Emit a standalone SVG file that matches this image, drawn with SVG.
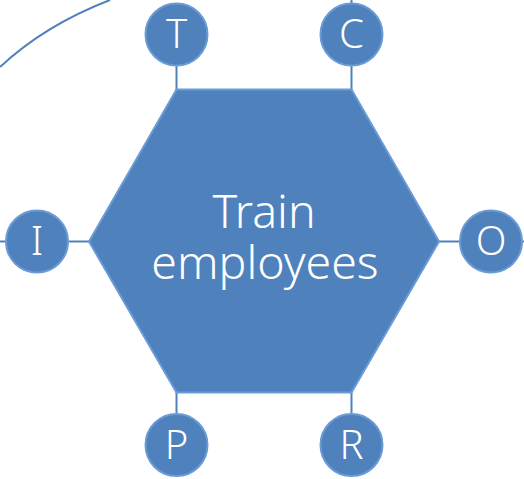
<svg xmlns="http://www.w3.org/2000/svg" width="524" height="479" viewBox="0 0 524 479">
<style>
.ln{stroke:#4F81BD;stroke-width:2;fill:none}
.nd{fill:#4F81BD;stroke:#6A9BD6;stroke-width:2}
.lt{fill:#fff;font-family:"Noto Sans","Open Sans",sans-serif;font-weight:300;font-size:40px;text-anchor:middle}
.mt{fill:#fff;font-family:"Noto Sans","Open Sans",sans-serif;font-weight:300;font-size:46.5px;text-anchor:middle}
</style>
<rect width="524" height="479" fill="#fff"/>
<g id="connectors">
<path class="ln" d="M0,67 Q45,25 110,0"/>
<line class="ln" x1="176.5" y1="66" x2="176.5" y2="90"/>
<line class="ln" x1="351.5" y1="0" x2="351.5" y2="4"/>
<line class="ln" x1="351.5" y1="66" x2="351.5" y2="90"/>
<line class="ln" x1="0" y1="241.5" x2="6" y2="241.5"/>
<line class="ln" x1="68" y1="241.5" x2="90" y2="241.5"/>
<line class="ln" x1="438" y1="241.5" x2="460" y2="241.5"/>
<line class="ln" x1="521" y1="241.5" x2="524" y2="241.5"/>
<line class="ln" x1="176.5" y1="392" x2="176.5" y2="414"/>
<line class="ln" x1="351.5" y1="392" x2="351.5" y2="414"/>
</g>
<g id="hub">
<polygon class="nd" points="176.5,89.5 351.5,89.5 439,241.5 351.5,392.5 176.5,392.5 89,241.5"/>
<text class="mt"><tspan x="264" y="228">Train</tspan><tspan x="265" y="279">employees</tspan></text>
</g>
<g id="nodeT"><circle class="nd" cx="176.5" cy="34.5" r="31"/><text class="lt" x="176.5" y="48">T</text></g>
<g id="nodeC"><circle class="nd" cx="351.5" cy="34.5" r="31"/><text class="lt" x="351.5" y="48">C</text></g>
<g id="nodeI"><circle class="nd" cx="37" cy="241.5" r="31"/><text class="lt" x="37" y="255">I</text></g>
<g id="nodeO"><circle class="nd" cx="491" cy="241.5" r="31"/><text class="lt" x="491" y="255">O</text></g>
<g id="nodeP"><circle class="nd" cx="176.5" cy="445" r="31"/><text class="lt" x="176.5" y="459">P</text></g>
<g id="nodeR"><circle class="nd" cx="351.5" cy="445" r="31"/><text class="lt" x="351.5" y="459">R</text></g>
</svg>
